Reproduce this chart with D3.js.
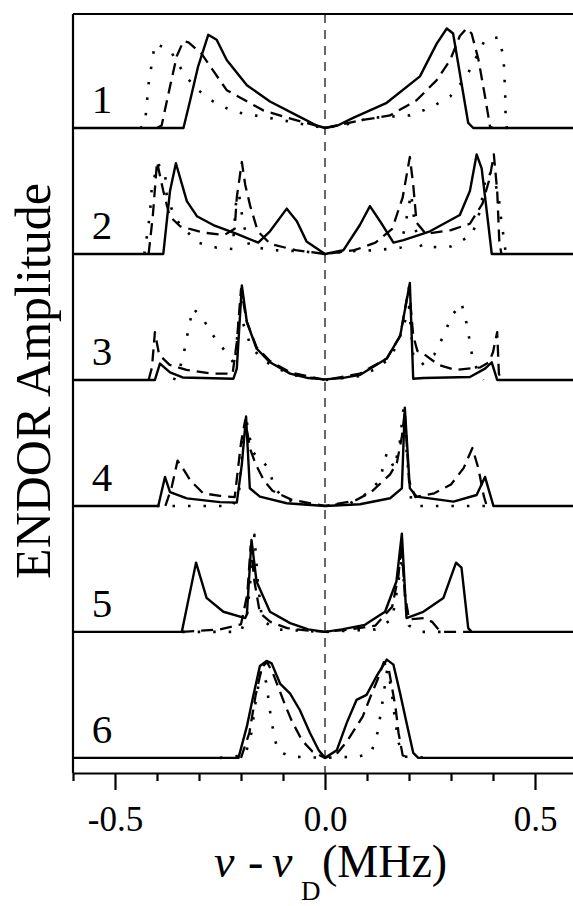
<!DOCTYPE html>
<html>
<head>
<meta charset="utf-8">
<style>
  body { margin: 0; background: #fff; }
  .trace { fill: none; stroke: #000; stroke-linejoin: round; }
</style>
</head>
<body>
<div id="chart"></div>
<script src="https://cdn.jsdelivr.net/npm/d3@7"></script>
<script>
'use strict';

var serif = '"Liberation Serif", "Times New Roman", Times, serif';

// tick values and labels
var majorTicks = [-0.5, 0.0, 0.5];
var minorTicks = [-0.6, -0.4, -0.3, -0.2, -0.1, 0.1, 0.2, 0.3, 0.4, 0.6];
var panelLabels = ['1', '2', '3', '4', '5', '6'];

// spectra: [nu - nuD (MHz), amplitude], one solid / dashed / dotted trace per panel
var p1Solid = [[-0.6,0],[-0.337,0],[-0.321,0.22],[-0.302,0.49],[-0.278,0.74],[-0.258,0.70],[-0.234,0.54],[-0.186,0.34],[-0.131,0.21],[-0.067,0.10],[-0.02,0.02],[0,0],[0.03,0.02],[0.067,0.08],[0.147,0.20],[0.226,0.41],[0.266,0.67],[0.290,0.79],[0.305,0.75],[0.341,0.04],[0.353,0],[0.6,0]];
var p1Dash = [[-0.40,0],[-0.389,0.02],[-0.369,0.33],[-0.353,0.57],[-0.337,0.69],[-0.325,0.68],[-0.294,0.59],[-0.234,0.30],[-0.147,0.14],[-0.067,0.06],[0,0],[0.083,0.06],[0.155,0.10],[0.218,0.22],[0.266,0.38],[0.298,0.54],[0.321,0.73],[0.337,0.79],[0.349,0.75],[0.365,0.55],[0.381,0.25],[0.393,0.01],[0.40,0]];
var p1Dot = [[-0.44,0],[-0.429,0.02],[-0.42,0.35],[-0.405,0.67],[-0.369,0.62],[-0.341,0.46],[-0.31,0.32],[-0.266,0.21],[-0.218,0.13],[-0.167,0.10],[-0.099,0.06],[-0.052,0.03],[0,0],[0.052,0.03],[0.107,0.08],[0.155,0.09],[0.202,0.10],[0.25,0.16],[0.298,0.25],[0.337,0.41],[0.381,0.70],[0.413,0.72],[0.425,0.57],[0.429,0.28],[0.430,0.10],[0.433,0],[0.44,0]];

var p2Solid = [[-0.6,0],[-0.385,0],[-0.369,0.50],[-0.355,0.72],[-0.329,0.42],[-0.305,0.30],[-0.266,0.23],[-0.21,0.16],[-0.159,0.09],[-0.131,0.18],[-0.091,0.36],[-0.067,0.26],[-0.044,0.10],[0,0],[0.044,0.03],[0.083,0.23],[0.107,0.38],[0.131,0.26],[0.163,0.09],[0.187,0.11],[0.25,0.18],[0.321,0.31],[0.345,0.50],[0.361,0.79],[0.373,0.68],[0.389,0.23],[0.397,0],[0.6,0]];
var p2Dash = [[-0.42,0],[-0.41,0.30],[-0.40,0.73],[-0.385,0.50],[-0.37,0.30],[-0.345,0.22],[-0.29,0.17],[-0.24,0.15],[-0.215,0.20],[-0.21,0.45],[-0.198,0.73],[-0.19,0.55],[-0.178,0.38],[-0.16,0.18],[-0.13,0.08],[-0.07,0.03],[0,0],[0.07,0.03],[0.12,0.09],[0.16,0.20],[0.185,0.45],[0.202,0.77],[0.21,0.55],[0.218,0.25],[0.24,0.16],[0.30,0.19],[0.345,0.24],[0.375,0.40],[0.392,0.60],[0.402,0.79],[0.41,0.50],[0.415,0.10],[0.42,0]];
var p2Dot = [[-0.43,0],[-0.417,0.31],[-0.413,0.50],[-0.399,0.72],[-0.381,0.65],[-0.377,0.47],[-0.361,0.32],[-0.345,0.23],[-0.302,0.09],[-0.258,0.05],[-0.22,0.04],[-0.212,0.40],[-0.205,0.48],[-0.195,0.25],[-0.18,0.06],[-0.12,0.03],[-0.05,0.02],[0,0],[0.05,0.02],[0.12,0.03],[0.18,0.05],[0.195,0.30],[0.205,0.48],[0.215,0.20],[0.23,0.05],[0.30,0.06],[0.35,0.15],[0.369,0.34],[0.385,0.65],[0.40,0.62],[0.413,0.47],[0.42,0.25],[0.428,0.08],[0.43,0]];

var p3Solid = [[-0.6,0],[-0.405,0],[-0.393,0.13],[-0.369,0.06],[-0.339,0.02],[-0.218,0.01],[-0.21,0.09],[-0.198,0.75],[-0.186,0.46],[-0.163,0.25],[-0.131,0.14],[-0.083,0.05],[-0.04,0.015],[0,0.005],[0.04,0.015],[0.083,0.04],[0.147,0.17],[0.179,0.35],[0.202,0.77],[0.21,0.01],[0.234,0.016],[0.345,0.024],[0.381,0.09],[0.397,0.14],[0.409,0.01],[0.41,0],[0.6,0]];
var p3Dash = [[-0.42,0],[-0.412,0.10],[-0.405,0.38],[-0.395,0.20],[-0.37,0.12],[-0.33,0.08],[-0.27,0.05],[-0.22,0.05],[-0.21,0.30],[-0.20,0.72],[-0.186,0.46],[-0.163,0.26],[-0.131,0.15],[-0.083,0.06],[0,0],[0.083,0.05],[0.147,0.17],[0.179,0.35],[0.20,0.74],[0.21,0.35],[0.22,0.23],[0.234,0.21],[0.27,0.12],[0.31,0.08],[0.37,0.10],[0.39,0.14],[0.40,0.22],[0.41,0.38],[0.414,0.05],[0.42,0]];
var p3Dot = [[-0.36,0],[-0.345,0.10],[-0.333,0.26],[-0.325,0.41],[-0.314,0.57],[-0.286,0.46],[-0.258,0.31],[-0.23,0.20],[-0.215,0.12],[-0.205,0.50],[-0.195,0.45],[-0.18,0.30],[-0.16,0.20],[-0.13,0.12],[-0.08,0.04],[0,0],[0.08,0.03],[0.13,0.10],[0.16,0.20],[0.185,0.40],[0.20,0.58],[0.21,0.20],[0.23,0.12],[0.26,0.20],[0.282,0.35],[0.302,0.51],[0.325,0.61],[0.337,0.45],[0.345,0.30],[0.353,0.14],[0.377,0]];

var p4Solid = [[-0.6,0],[-0.397,0],[-0.381,0.23],[-0.369,0.11],[-0.329,0.06],[-0.25,0.03],[-0.21,0.026],[-0.198,0.33],[-0.188,0.71],[-0.179,0.14],[-0.155,0.074],[-0.091,0.021],[0,0],[0.083,0.013],[0.155,0.061],[0.183,0.14],[0.19,0.78],[0.202,0.14],[0.218,0.074],[0.306,0.034],[0.361,0.087],[0.381,0.23],[0.401,0],[0.6,0]];
var p4Dash = [[-0.38,0],[-0.365,0.15],[-0.351,0.36],[-0.335,0.28],[-0.32,0.20],[-0.29,0.10],[-0.25,0.08],[-0.215,0.07],[-0.20,0.50],[-0.19,0.68],[-0.178,0.45],[-0.165,0.33],[-0.145,0.20],[-0.125,0.12],[-0.08,0.05],[0,0],[0.07,0.04],[0.11,0.11],[0.155,0.25],[0.171,0.34],[0.183,0.55],[0.19,0.75],[0.20,0.20],[0.215,0.07],[0.26,0.10],[0.30,0.17],[0.33,0.30],[0.351,0.46],[0.365,0.30],[0.378,0.08],[0.385,0]];
var p4Dot = [[-0.40,0],[-0.22,0],[-0.205,0.10],[-0.195,0.50],[-0.188,0.70],[-0.18,0.55],[-0.17,0.42],[-0.155,0.38],[-0.135,0.30],[-0.12,0.15],[-0.10,0.06],[-0.06,0.02],[0,0],[0.06,0.02],[0.10,0.10],[0.13,0.20],[0.147,0.42],[0.165,0.30],[0.178,0.50],[0.187,0.78],[0.195,0.40],[0.205,0.05],[0.22,0],[0.40,0]];

var p5Solid = [[-0.6,0],[-0.341,0],[-0.307,0.55],[-0.282,0.27],[-0.242,0.16],[-0.19,0.11],[-0.186,0.14],[-0.175,0.73],[-0.163,0.40],[-0.131,0.16],[-0.083,0.07],[-0.04,0.02],[0,0],[0.04,0.02],[0.095,0.056],[0.143,0.16],[0.17,0.40],[0.183,0.78],[0.194,0.11],[0.234,0.16],[0.282,0.27],[0.312,0.55],[0.325,0.51],[0.341,0.03],[0.349,0],[0.6,0]];
var p5Dash = [[-0.34,0],[-0.25,0.02],[-0.20,0.06],[-0.185,0.30],[-0.177,0.68],[-0.168,0.40],[-0.155,0.15],[-0.13,0.08],[-0.09,0.03],[-0.04,0.01],[0,0],[0.06,0.02],[0.12,0.05],[0.16,0.20],[0.175,0.45],[0.182,0.70],[0.19,0.30],[0.20,0.10],[0.235,0.11],[0.255,0.08],[0.275,0],[0.35,0]];
var p5Dot = [[-0.34,0],[-0.20,0],[-0.185,0.15],[-0.175,0.50],[-0.168,0.77],[-0.16,0.40],[-0.15,0.10],[-0.12,0.02],[0,0],[0.12,0.02],[0.16,0.10],[0.175,0.40],[0.183,0.60],[0.19,0.30],[0.20,0.05],[0.23,0],[0.30,0]];

var p6Solid = [[-0.6,0],[-0.206,0],[-0.186,0.25],[-0.171,0.49],[-0.155,0.73],[-0.139,0.77],[-0.127,0.75],[-0.107,0.59],[-0.083,0.51],[-0.06,0.38],[-0.036,0.20],[-0.015,0.06],[0,0],[0.028,0.06],[0.052,0.28],[0.075,0.46],[0.099,0.50],[0.123,0.65],[0.147,0.78],[0.163,0.74],[0.179,0.51],[0.194,0.28],[0.21,0.04],[0.222,0],[0.6,0]];
var p6Dash = [[-0.20,0],[-0.18,0.20],[-0.165,0.50],[-0.15,0.72],[-0.138,0.76],[-0.125,0.68],[-0.11,0.55],[-0.095,0.42],[-0.08,0.30],[-0.055,0.14],[-0.03,0.05],[0,0],[0.03,0.04],[0.052,0.13],[0.075,0.25],[0.09,0.33],[0.11,0.50],[0.125,0.62],[0.14,0.76],[0.152,0.70],[0.16,0.55],[0.168,0.40],[0.175,0.20],[0.185,0.02],[0.20,0]];
var p6Dot = [[-0.25,0],[-0.19,0.02],[-0.175,0.20],[-0.165,0.45],[-0.152,0.70],[-0.14,0.60],[-0.13,0.35],[-0.12,0.15],[-0.11,0.05],[-0.08,0.01],[0,0],[0.08,0.01],[0.11,0.04],[0.125,0.20],[0.135,0.40],[0.148,0.70],[0.158,0.55],[0.165,0.35],[0.175,0.12],[0.19,0.01],[0.25,0]];

var panels = [
  [p1Solid, p1Dash, p1Dot],
  [p2Solid, p2Dash, p2Dot],
  [p3Solid, p3Dash, p3Dot],
  [p4Solid, p4Dash, p4Dot],
  [p5Solid, p5Dash, p5Dot],
  [p6Solid, p6Dash, p6Dot]
];

var width = 573,
    height = 906;

var svg = d3.select('#chart').append('svg')
    .attr('width', width).attr('height', height)
    .attr('font-family', serif);

var x = d3.scaleLinear().domain([-0.6, 0.6]).range([73, 577]);
// each panel is stacked one amplitude unit above the next
var y = d3.scaleLinear().domain([-0.12, 5.905]).range([773, 14]);

var styles = [
  { width: 2.4, dash: null },
  { width: 2.3, dash: '12,7' },
  { width: 2.6, dash: '2.5,13' }
];

// frame
svg.append('line').attr('x1', x(-0.6)).attr('x2', x(-0.6))
  .attr('y1', y(5.905)).attr('y2', y(-0.12))
  .attr('stroke', '#000').attr('stroke-width', 2.2);
svg.append('line').attr('x1', x(-0.6)).attr('x2', x(0.6))
  .attr('y1', y(5.905)).attr('y2', y(5.905))
  .attr('stroke', '#000').attr('stroke-width', 2.2);

// zero frequency marker
svg.append('line').attr('x1', x(0)).attr('x2', x(0))
  .attr('y1', y(5.905)).attr('y2', y(-0.12))
  .attr('stroke', '#000').attr('stroke-width', 1.2)
  .attr('stroke-dasharray', '9,7');

var line = d3.line()
  .x(function(d) { return x(d[0]); });

panels.forEach(function(traces, i) {
  var offset = panels.length - 1 - i;
  line.y(function(d) { return y(d[1] + offset); });

  var g = svg.append('g').attr('class', 'panel');
  // draw dotted first, solid last
  [2, 1, 0].forEach(function(k) {
    g.append('path')
      .datum(traces[k])
      .attr('class', 'trace')
      .attr('d', line)
      .attr('stroke-width', styles[k].width)
      .attr('stroke-dasharray', styles[k].dash);
  });

  g.append('text')
    .attr('x', 102)
    .attr('y', y(offset) - 15)
    .attr('text-anchor', 'middle')
    .style('font-family', serif)
    .style('font-size', '41px')
    .text(panelLabels[i]);
});

// x axis
var axisG = svg.append('g').attr('transform', 'translate(0,' + y(-0.12) + ')');

axisG.append('g')
  .call(d3.axisBottom(x).tickValues(minorTicks).tickSize(8).tickSizeOuter(0).tickFormat(''))
  .call(function(g) { g.select('.domain').remove(); });

axisG.append('g')
  .call(d3.axisBottom(x).tickValues(majorTicks).tickSize(17).tickSizeOuter(0).tickPadding(16)
    .tickFormat(function(d) { return d.toFixed(1); }))
  .attr('font-family', serif)
  .call(function(g) {
    g.select('.domain').attr('stroke-width', 2.2);
    g.selectAll('text').style('font-family', serif).style('font-size', '35px');
  });

axisG.selectAll('.tick line').attr('stroke-width', 2.2);

// axis titles
var xt = svg.append('text').attr('y', 877)
  .style('font-family', serif).style('font-size', '46px');
xt.append('tspan').attr('x', 214).style('font-style', 'italic').text('ν');
xt.append('tspan').attr('x', 248).text('-');
xt.append('tspan').attr('x', 272).style('font-style', 'italic').text('ν');
xt.append('tspan').attr('x', 301).attr('y', 900).style('font-size', '27px').text('D');
xt.append('tspan').attr('x', 322).attr('y', 877).text('(MHz)');

svg.append('text')
  .attr('transform', 'translate(50,381) rotate(-90)')
  .attr('text-anchor', 'middle')
  .style('font-family', serif)
  .style('font-size', '50px')
  .text('ENDOR Amplitude');
</script>
</body>
</html>
